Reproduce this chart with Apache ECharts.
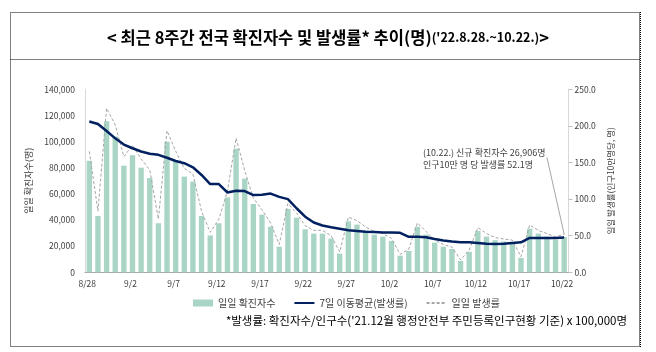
<!DOCTYPE html>
<html>
<head>
<meta charset="utf-8">
<script src="https://cdn.jsdelivr.net/npm/echarts@6/dist/echarts.min.js"></script>
<style>
  html, body { margin: 0; padding: 0; background: #fff; }
  #chart { width: 656px; height: 352px; }
</style>
</head>
<body>
<div id="chart"></div>
<script>
// 날짜 (8/28 ~ 10/22)
const days = [
  '8/28', '8/29', '8/30', '8/31', '9/1', '9/2', '9/3', '9/4', '9/5', '9/6',
  '9/7', '9/8', '9/9', '9/10', '9/11', '9/12', '9/13', '9/14', '9/15', '9/16',
  '9/17', '9/18', '9/19', '9/20', '9/21', '9/22', '9/23', '9/24', '9/25', '9/26',
  '9/27', '9/28', '9/29', '9/30', '10/1', '10/2', '10/3', '10/4', '10/5', '10/6',
  '10/7', '10/8', '10/9', '10/10', '10/11', '10/12', '10/13', '10/14', '10/15', '10/16',
  '10/17', '10/18', '10/19', '10/20', '10/21', '10/22'
];

// 일일 확진자수
const dailyCases = [
  85295, 43142, 115615, 103961, 81573, 89586, 80026, 72144, 37540, 99837,
  85500, 73200, 69400, 43100, 28200, 37500, 57300, 94600, 71700, 52300,
  44100, 34900, 19600, 48500, 41800, 32900, 29600, 29600, 25800, 14300,
  39000, 36500, 31900, 28800, 27300, 24000, 12700, 16300, 34900, 28800,
  22700, 19600, 17800, 8700, 15600, 31600, 27300, 24500, 23500, 22700,
  11000, 33400, 29600, 27300, 25000, 26906
];

// 7일 이동평균(발생률)
const avg7Rate = [
  206, 202.5, 193, 183, 174.5, 169.5, 165, 162, 160.5, 156.5,
  152, 149, 143.5, 133, 120.5, 120.5, 109, 111.5, 111, 105.5,
  106, 107.5, 103, 100, 87.5, 76, 68, 64, 61.5, 59.5,
  57.5, 56.5, 55.5, 55, 54.5, 54.5, 54, 48.5, 48.5, 48,
  45.5, 43.5, 42, 41, 41, 40, 39, 38.5, 39, 40,
  41, 47, 47, 47, 47, 47.5
];

// 일일 발생률
const dailyRate = [
  165.2, 83.6, 224.0, 201.4, 158.0, 173.6, 155.0, 139.8, 72.7, 193.4,
  165.6, 141.8, 134.4, 83.5, 54.6, 72.6, 111.0, 183.3, 138.9, 101.3,
  85.4, 67.6, 38.0, 94.0, 81.0, 63.7, 57.3, 57.3, 50.0, 27.7,
  75.5, 70.7, 61.8, 55.8, 52.9, 46.5, 24.6, 31.6, 67.6, 55.8,
  44.0, 38.0, 34.5, 16.9, 30.2, 61.2, 52.9, 47.5, 45.5, 44.0,
  21.3, 64.7, 57.3, 52.9, 48.4, 52.1
];

const leftTicks = { min: 0, max: 140000, interval: 20000 };
const rightTicks = { min: 0, max: 250, interval: 50 };

const FONT = '"Noto Sans CJK KR", "Noto Sans", sans-serif';
const axisText = { color: '#404040', fontSize: 8.5, fontFamily: FONT };

const chart = echarts.init(document.getElementById('chart'), null, { renderer: 'canvas' });

const option = {
  backgroundColor: '#fff',
  animation: false,
  textStyle: { fontFamily: FONT },
  title: {
    text: '{b|< 최근 8주간 전국 확진자수 및 발생률* 추이}{n|(명)}{s|(\'22.8.28.~10.22.)}{b|>}',
    left: 'center',
    top: 24,
    textStyle: {
      rich: {
        b: { fontSize: 16.5, fontWeight: 'bold', color: '#000', fontFamily: FONT },
        n: { fontSize: 16.5, color: '#000', fontFamily: FONT },
        s: { fontSize: 12.5, color: '#000', fontFamily: FONT }
      }
    }
  },
  grid: { left: 85, right: 87.5, top: 89.3, bottom: 79.7 },
  legend: {
    left: 188,
    top: 293,
    itemWidth: 20,
    itemHeight: 7,
    itemGap: 18,
    textStyle: { color: '#404040', fontSize: 10, fontFamily: FONT },
    data: [
      { name: '일일 확진자수', icon: 'rect' },
      { name: '7일 이동평균(발생률)', itemStyle: { opacity: 0 } },
      { name: '일일 발생률', itemStyle: { opacity: 0 } }
    ]
  },
  xAxis: {
    type: 'category',
    data: days,
    boundaryGap: true,
    axisLine: { lineStyle: { color: '#a6a6a6' } },
    axisTick: { interval: 4, length: 4, lineStyle: { color: '#a6a6a6' } },
    axisLabel: Object.assign({ interval: 4, margin: 7, padding: [0, 4, 0, 0] }, axisText),
    splitLine: { show: false }
  },
  yAxis: [
    {
      type: 'value',
      min: leftTicks.min,
      max: leftTicks.max,
      interval: leftTicks.interval,
      name: '일일 확진자수(명)',
      nameLocation: 'middle',
      nameRotate: 90,
      nameGap: 46,
      nameTextStyle: { color: '#404040', fontSize: 9, fontFamily: FONT },
      axisLine: { show: true, lineStyle: { color: '#d9d9d9' } },
      axisTick: { show: false },
      axisLabel: Object.assign({
        margin: 10,
        formatter: v => v.toLocaleString('en-US')
      }, axisText),
      splitLine: { show: false }
    },
    {
      type: 'value',
      position: 'right',
      min: rightTicks.min,
      max: rightTicks.max,
      interval: rightTicks.interval,
      name: '일일 발생률(인구10만명당, 명)',
      nameLocation: 'middle',
      nameRotate: 90,
      nameGap: 33,
      nameTextStyle: { color: '#404040', fontSize: 8.5, fontFamily: FONT },
      axisLine: { show: true, lineStyle: { color: '#d9d9d9' } },
      axisTick: { show: true, length: 4, lineStyle: { color: '#bfbfbf' } },
      axisLabel: Object.assign({
        margin: 6,
        formatter: v => v.toFixed(1)
      }, axisText),
      splitLine: { show: false }
    }
  ],
  series: [
    {
      name: '일일 확진자수',
      type: 'bar',
      yAxisIndex: 0,
      data: dailyCases,
      barCategoryGap: '38%',
      itemStyle: { color: '#a9d5c5' },
      z: 1
    },
    {
      name: '일일 발생률',
      type: 'line',
      yAxisIndex: 1,
      data: dailyRate,
      symbol: 'none',
      lineStyle: { color: '#a6a6a6', width: 1, type: [3, 2] },
      itemStyle: { color: '#a6a6a6' },
      z: 2,
      // (10.22.) 주석 지시선
      markLine: {
        silent: true,
        symbol: ['none', 'none'],
        label: { show: false },
        lineStyle: { color: '#a6a6a6', width: 1, type: 'solid' },
        data: [[{ coord: ['10/22', 52.1] }, { coord: ['10/20', 157] }]]
      }
    },
    {
      name: '7일 이동평균(발생률)',
      type: 'line',
      yAxisIndex: 1,
      data: avg7Rate,
      symbol: 'none',
      lineStyle: { color: '#002060', width: 2.5 },
      itemStyle: { color: '#002060' },
      z: 3
    }
  ],
  graphic: [
    // 바깥 점선 박스 + 제목 구분선
    {
      type: 'rect',
      shape: { x: 10.5, y: 12.5, width: 629, height: 334 },
      style: { fill: 'none', stroke: '#000', lineWidth: 1, lineDash: [1, 1] },
      silent: true
    },
    {
      type: 'line',
      shape: { x1: 10.5, y1: 59.5, x2: 639.5, y2: 59.5 },
      style: { stroke: '#000', lineWidth: 1, lineDash: [1, 1] },
      silent: true
    },
    {
      type: 'line',
      shape: { x1: 640.5, y1: 12, x2: 640.5, y2: 347 },
      style: { stroke: '#000', lineWidth: 1, lineDash: [1, 1] },
      silent: true
    },
    {
      type: 'text',
      left: 423,
      top: 147,
      style: {
        text: '(10.22.) 신규 확진자수 26,906명\n인구10만 명 당 발생률 52.1명',
        fill: '#404040',
        font: '9px ' + FONT,
        align: 'center',
        lineHeight: 12
      },
      silent: true
    },
    {
      type: 'text',
      right: 29,
      top: 315,
      style: {
        text: '*발생률: 확진자수/인구수(\'21.12월 행정안전부 주민등록인구현황 기준) x 100,000명',
        fill: '#000',
        font: '11.5px ' + FONT
      },
      silent: true
    }
  ]
};

chart.setOption(option);
</script>
</body>
</html>
